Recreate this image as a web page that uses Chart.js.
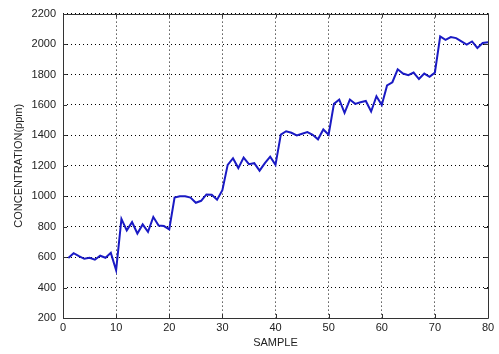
<!DOCTYPE html>
<html>
<head>
<meta charset="utf-8">
<script src="https://cdn.jsdelivr.net/npm/chart.js@4"></script>
<style>
  html, body { margin: 0; padding: 0; background: #fff; }
  #wrap { width: 499px; height: 354px; }
</style>
</head>
<body>
<div id="wrap"><canvas id="c" width="499" height="354"></canvas></div>
<script>
// Sample index and measured concentration (ppm)
const samples = [
  1, 2, 3, 4, 5, 6, 7, 8, 9, 10,
  11, 12, 13, 14, 15, 16, 17, 18, 19, 20,
  21, 22, 23, 24, 25, 26, 27, 28, 29, 30,
  31, 32, 33, 34, 35, 36, 37, 38, 39, 40,
  41, 42, 43, 44, 45, 46, 47, 48, 49, 50,
  51, 52, 53, 54, 55, 56, 57, 58, 59, 60,
  61, 62, 63, 64, 65, 66, 67, 68, 69, 70,
  71, 72, 73, 74, 75, 76, 77, 78, 79, 80
];
const concentration = [
  594, 626, 606, 589, 596, 583, 609, 596, 628, 514,
  851, 776, 830, 755, 815, 766, 864, 808, 804, 783,
  991, 1000, 1000, 991, 957, 970, 1012, 1010, 977, 1040,
  1206, 1250, 1185, 1254, 1211, 1217, 1168, 1217, 1260, 1206,
  1405, 1427, 1417, 1400, 1411, 1422, 1404, 1374, 1439, 1404,
  1607, 1635, 1548, 1635, 1607, 1617, 1626, 1557, 1657, 1600,
  1728, 1749, 1834, 1806, 1796, 1813, 1770, 1806, 1785, 1812,
  2050, 2028, 2046, 2039, 2017, 1996, 2017, 1974, 2007, 2011
];
// Axis tick values
const xTicks = [0, 10, 20, 30, 40, 50, 60, 70, 80];
const yTicks = [200, 400, 600, 800, 1000, 1200, 1400, 1600, 1800, 2000, 2200];

const points = samples.map((s, i) => ({ x: s, y: concentration[i] }));

// Box around the plot area with short inward tick marks on all four sides
const boxPlugin = {
  id: 'boxTicks',
  afterDraw(chart) {
    const { ctx, chartArea: a, scales } = chart;
    const len = 4;
    ctx.save();
    ctx.strokeStyle = '#333';
    ctx.lineWidth = 1;
    ctx.beginPath();
    ctx.rect(Math.round(a.left) + 0.5, Math.round(a.top) + 0.5,
             Math.round(a.right - a.left), Math.round(a.bottom - a.top));
    xTicks.forEach(v => {
      const px = Math.round(scales.x.getPixelForValue(v)) + 0.5;
      ctx.moveTo(px, a.bottom); ctx.lineTo(px, a.bottom - len);
      ctx.moveTo(px, a.top); ctx.lineTo(px, a.top + len);
    });
    yTicks.forEach(v => {
      const py = Math.round(scales.y.getPixelForValue(v)) + 0.5;
      ctx.moveTo(a.left, py); ctx.lineTo(a.left + len, py);
      ctx.moveTo(a.right, py); ctx.lineTo(a.right - len, py);
    });
    ctx.stroke();
    ctx.restore();
  }
};

const tickFont = { family: 'Arial, "Liberation Sans", sans-serif', size: 11 };

new Chart(document.getElementById('c'), {
  type: 'line',
  data: {
    datasets: [{
      data: points,
      borderColor: '#1a1ac4',
      borderWidth: 2,
      pointRadius: 0,
      tension: 0,
      fill: false
    }]
  },
  options: {
    responsive: false,
    animation: false,
    layout: { padding: { top: 11, right: 11, left: 0, bottom: 0 } },
    plugins: { legend: { display: false }, tooltip: { enabled: false } },
    scales: {
      x: {
        type: 'linear',
        min: 0, max: 80,
        afterBuildTicks: s => { s.ticks = xTicks.map(v => ({ value: v })); },
        afterFit: s => { s.height = 36; },
        ticks: { font: tickFont, color: '#222', padding: 3, maxRotation: 0,
                 callback: v => String(v) },
        grid: { color: '#000', lineWidth: 1, drawTicks: false },
        border: { display: false, dash: [1, 3] },
        title: {
          display: true, text: 'SAMPLE', font: tickFont, color: '#222',
          padding: { top: 0, bottom: 4 }
        }
      },
      y: {
        min: 200, max: 2200,
        afterBuildTicks: s => { s.ticks = yTicks.map(v => ({ value: v })); },
        afterFit: s => { s.width = 63; },
        ticks: { font: tickFont, color: '#222', padding: 7,
                 callback: v => String(v) },
        grid: { color: '#000', lineWidth: 1, drawTicks: false },
        border: { display: false, dash: [1, 3] },
        title: {
          display: true, text: 'CONCENTRATION(ppm)', font: tickFont, color: '#222',
          padding: { top: 12, bottom: 0 }
        }
      }
    }
  },
  plugins: [boxPlugin]
});
</script>
</body>
</html>
